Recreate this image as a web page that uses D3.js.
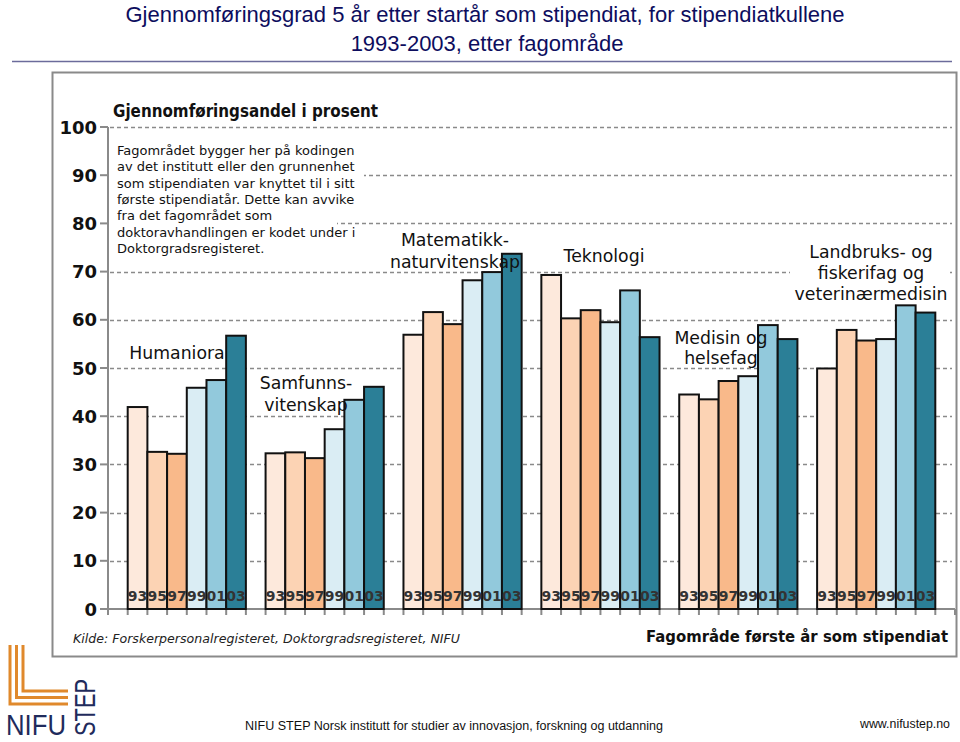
<!DOCTYPE html>
<html><head><meta charset="utf-8">
<script src="https://cdn.jsdelivr.net/npm/d3@7"></script>
<style>body{margin:0;background:#fff}svg{display:block}</style>
</head><body>
<script>
// ---- data ----
const categories = ["Humaniora","Samfunnsvitenskap","Matematikk og naturvitenskap","Teknologi","Medisin og helsefag","Landbruks- og fiskerifag og veterinærmedisin"];
const years = ["93","95","97","99","01","03"];
const humaniora = [41.9, 32.6, 32.2, 45.9, 47.5, 56.7];
const samfunnsvitenskap = [32.3, 32.5, 31.3, 37.3, 43.4, 46.1];
const matematikkNatur = [56.9, 61.6, 59.1, 68.2, 69.9, 73.7];
const teknologi = [69.3, 60.3, 62.0, 59.5, 66.1, 56.4];
const medisinHelse = [44.5, 43.5, 47.3, 48.3, 58.9, 56.0];
const landbrukFiskeVet = [49.9, 57.9, 55.7, 56.0, 63.0, 61.5];
const seriesValues = [humaniora, samfunnsvitenskap, matematikkNatur, teknologi, medisinHelse, landbrukFiskeVet];
const yTickValues = [0,10,20,30,40,50,60,70,80,90,100];
const groupLabelLines = [["Humaniora"],["Samfunns-","vitenskap"],["Matematikk-","naturvitenskap"],["Teknologi"],["Medisin og","helsefag"],["Landbruks- og","fiskerifag og","veterinærmedisin"]];
const noteLines = ["Fagområdet bygger her på kodingen","av det institutt eller den grunnenhet","som stipendiaten var knyttet til i sitt","første stipendiatår. Dette kan avvike","fra det fagområdet som","doktoravhandlingen er kodet under i","Doktorgradsregisteret."];

// ---- styles ----
const yearColors = ["#fde9dc","#fcd3b4","#f9b98a","#daedf4","#92c9dc","#2b7f97"];
const W = 960, H = 742;
const svg = d3.select("body").append("svg").attr("width", W).attr("height", H);

// title
const titleColor = "#0d0d5e";
svg.append("text").attr("x", 485).attr("y", 22).attr("text-anchor","middle")
  .attr("font-family","Liberation Sans, Arial, sans-serif").attr("font-size",22).attr("fill",titleColor)
  .text("Gjennomføringsgrad 5 år etter startår som stipendiat, for stipendiatkullene");
svg.append("text").attr("x", 487).attr("y", 51).attr("text-anchor","middle")
  .attr("font-family","Liberation Sans, Arial, sans-serif").attr("font-size",22).attr("fill",titleColor)
  .text("1993-2003, etter fagområde");
svg.append("line").attr("x1",12).attr("x2",952).attr("y1",61.5).attr("y2",61.5)
  .attr("stroke","#6b6b9b").attr("stroke-width",1.5);

// panel
svg.append("rect").attr("x",52.5).attr("y",72.5).attr("width",904).attr("height",584)
  .attr("fill","#fff").attr("stroke","#8a8a8a").attr("stroke-width",2);

const x0 = 108, x1 = 955;
const y = d3.scaleLinear().domain([0,100]).range([609,127]);
const xg = d3.scaleBand().domain(categories).range([x0,x1]).paddingInner(1/7).paddingOuter(1/7);
const xy = d3.scaleBand().domain(years).range([0,xg.bandwidth()]).padding(0);

const font = "DejaVu Sans, Verdana, sans-serif";

// gridlines
svg.append("g").selectAll("line").data(yTickValues.filter(d=>d>0)).join("line")
  .attr("x1",110).attr("x2",952).attr("y1",d=>Math.round(y(d))+0.5).attr("y2",d=>Math.round(y(d))+0.5)
  .attr("stroke","#8a8a8a").attr("stroke-width",1.5).attr("stroke-dasharray","4,3");

// note (white background hides grid)
const note = svg.append("g");
note.append("rect").attr("x",110).attr("y",138).attr("width",254).attr("height",76).attr("fill","#fff");
note.append("rect").attr("x",110).attr("y",214).attr("width",227).attr("height",44).attr("fill","#fff");
note.selectAll("text").data(noteLines).join("text")
  .attr("x",117).attr("y",(d,i)=>155+i*16.3)
  .attr("font-family",font).attr("font-size",13).attr("fill","#111").text(d=>d);

// inner title
svg.append("text").attr("x",113).attr("y",117)
  .attr("font-family",font).attr("font-weight","bold").attr("font-size",17).attr("fill","#111")
  .attr("textLength",265).attr("lengthAdjust","spacingAndGlyphs")
  .text("Gjennomføringsandel i prosent");

// axes
svg.append("line").attr("x1",x0).attr("x2",x0).attr("y1",y(100)).attr("y2",y(0)).attr("stroke","#8a8a8a").attr("stroke-width",2);
svg.append("line").attr("x1",x0).attr("x2",x1).attr("y1",y(0)).attr("y2",y(0)).attr("stroke","#8a8a8a").attr("stroke-width",2);
svg.append("g").selectAll("line").data(yTickValues).join("line")
  .attr("x1",100).attr("x2",x0).attr("y1",d=>y(d)).attr("y2",d=>y(d)).attr("stroke","#8a8a8a").attr("stroke-width",2);
svg.append("g").selectAll("text").data(yTickValues).join("text")
  .attr("x",97).attr("y",d=>y(d)+6.5).attr("text-anchor","end")
  .attr("font-family",font).attr("font-weight","bold").attr("font-size",18).attr("fill","#111").text(d=>d);
const slot = xg.step()/7;
svg.append("g").selectAll("line").data(d3.range(44)).join("line")
  .attr("x1",k=>x0+k*slot).attr("x2",k=>x0+k*slot).attr("y1",y(0)).attr("y2",y(0)+6)
  .attr("stroke","#8a8a8a").attr("stroke-width",2);

// Landbruk label background (hides grid behind label)
svg.append("rect").attr("x",790).attr("y",240).attr("width",160).attr("height",62).attr("fill","#fff");

// bars
const groups = svg.append("g").selectAll("g").data(categories).join("g")
  .attr("transform",c=>`translate(${xg(c)},0)`);
groups.selectAll("rect").data((c,i)=>seriesValues[i].map((v,j)=>({v,yr:years[j],j}))).join("rect")
  .attr("x",d=>xy(d.yr)).attr("width",xy.bandwidth())
  .attr("y",d=>y(d.v)).attr("height",d=>y(0)-y(d.v))
  .attr("fill",d=>yearColors[d.j]).attr("stroke","#111").attr("stroke-width",2);
groups.selectAll("text").data(years).join("text")
  .attr("x",d=>xy(d)+xy.bandwidth()/2).attr("y",601).attr("text-anchor","middle")
  .attr("font-family",font).attr("font-weight","bold").attr("font-size",14).attr("fill","#333").text(d=>d);

// group labels
const labelPos = [[177,359],[306,389],[455,246],[604,262],[721,344],[871,258]];
const lineGap = [0,22,22,0,20,21];
const lab = svg.append("g").attr("font-family",font).attr("font-size",17.3).attr("fill","#111");
groupLabelLines.forEach((lines,i)=>{
  lines.forEach((t,k)=>{
    lab.append("text").attr("x",labelPos[i][0]).attr("y",labelPos[i][1]+k*lineGap[i])
      .attr("text-anchor","middle").text(t);
  });
});

// source & axis title
svg.append("text").attr("x",73).attr("y",643).attr("font-family",font).attr("font-style","italic")
  .attr("font-size",13).attr("fill","#222").attr("textLength",387).attr("lengthAdjust","spacingAndGlyphs")
  .text("Kilde: Forskerpersonalregisteret, Doktorgradsregisteret, NIFU");
svg.append("text").attr("x",646).attr("y",642).attr("font-family",font).attr("font-weight","bold")
  .attr("font-size",15.5).attr("fill","#111").attr("textLength",302).attr("lengthAdjust","spacingAndGlyphs")
  .text("Fagområde første år som stipendiat");

// footer logo
const orange = "#e0892c";
const logo = svg.append("g").attr("fill","none").attr("stroke",orange).attr("stroke-width",3);
[[10,704],[16.5,697.5],[23,691]].forEach(([lx,ly])=>{
  logo.append("path").attr("d",`M${lx},645 L${lx},${ly} L68,${ly}`);
});
const navy = "#1f2b5c";
svg.append("text").attr("x",6).attr("y",735).attr("font-family","Liberation Sans, sans-serif")
  .attr("font-size",30).attr("fill",navy).attr("textLength",60).attr("lengthAdjust","spacingAndGlyphs").text("NIFU");
svg.append("text").attr("transform","translate(95,736) rotate(-90)").attr("font-family","Liberation Sans, sans-serif")
  .attr("font-size",29).attr("fill",navy).attr("textLength",57).attr("lengthAdjust","spacingAndGlyphs").text("STEP");

svg.append("text").attr("x",245).attr("y",730).attr("font-family","Liberation Sans, sans-serif")
  .attr("font-size",12).attr("fill","#111").attr("textLength",418).attr("lengthAdjust","spacingAndGlyphs")
  .text("NIFU STEP  Norsk institutt for studier av innovasjon, forskning og utdanning");
svg.append("text").attr("x",860).attr("y",728).attr("font-family","Liberation Sans, sans-serif")
  .attr("font-size",12).attr("fill","#111").attr("textLength",90).attr("lengthAdjust","spacingAndGlyphs")
  .text("www.nifustep.no");
</script>
</body></html>
